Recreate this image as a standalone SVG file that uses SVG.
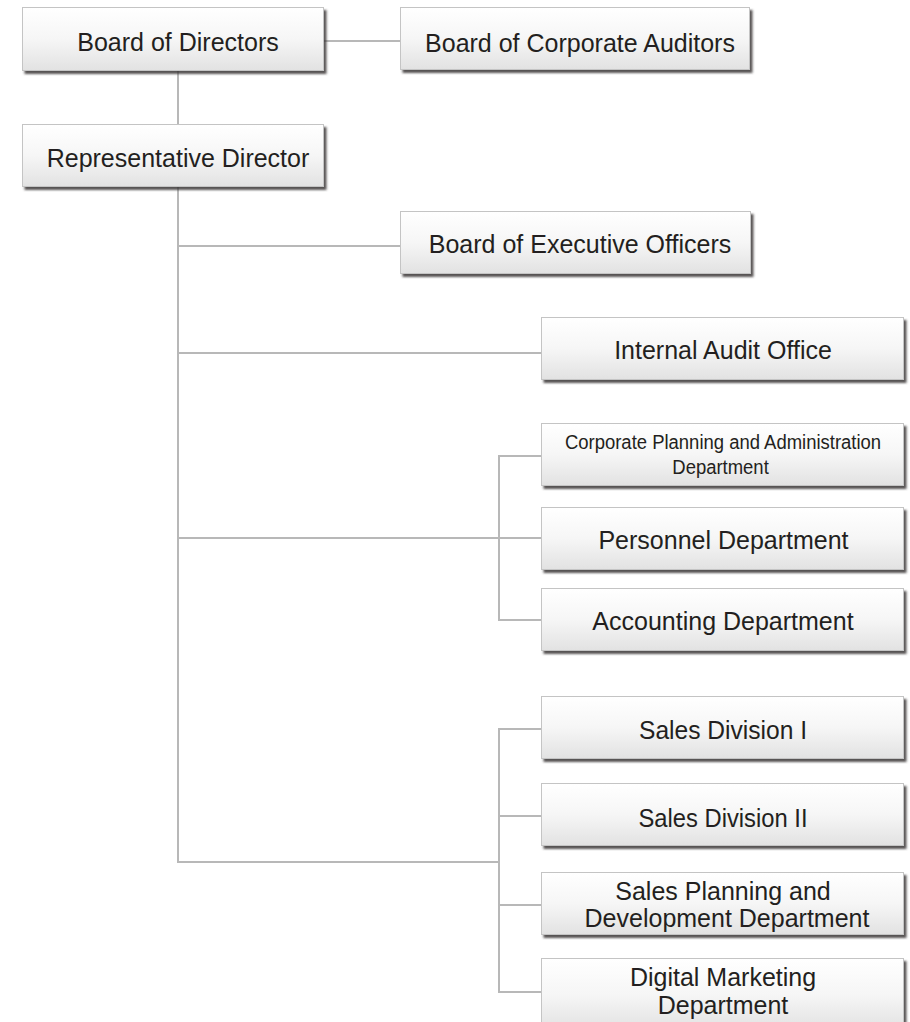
<svg xmlns="http://www.w3.org/2000/svg" width="910" height="1022" viewBox="0 0 910 1022">
<style>
.box{fill:url(#g);stroke:#c4c4c4;stroke-width:1;filter:url(#sh)}
.t{font-family:"Liberation Sans",Arial,Helvetica,sans-serif;font-size:25px;fill:#231f20;text-anchor:middle}
.tc{font-family:"Liberation Sans",Arial,Helvetica,sans-serif;font-size:21px;fill:#231f20;text-anchor:middle}
.ln{stroke:#b8b8b8;stroke-width:2;fill:none}
</style>
<defs>
<linearGradient id="g" x1="0" y1="0" x2="0" y2="1">
<stop offset="0" stop-color="#ffffff"/>
<stop offset="0.5" stop-color="#f6f6f6"/>
<stop offset="1" stop-color="#e2e2e2"/>
</linearGradient>
<filter id="sh" x="-5%" y="-10%" width="115%" height="130%">
<feDropShadow dx="2.5" dy="3" stdDeviation="0.9" flood-color="#3a3535" flood-opacity="0.85"/>
</filter>
</defs>
<rect width="910" height="1022" fill="#ffffff"/>
<g id="connectors">
<line class="ln" x1="324" y1="41" x2="401" y2="41"/>
<line class="ln" x1="178" y1="71" x2="178" y2="125"/>
<polyline class="ln" points="178,187 178,862 499,862"/>
<line class="ln" x1="178" y1="246" x2="401" y2="246"/>
<line class="ln" x1="178" y1="353" x2="542" y2="353"/>
<line class="ln" x1="178" y1="538" x2="542" y2="538"/>
<polyline class="ln" points="542,456 499,456 499,620 542,620"/>
<polyline class="ln" points="542,729 499,729 499,992 542,992"/>
<line class="ln" x1="499" y1="816" x2="542" y2="816"/>
<line class="ln" x1="499" y1="905" x2="542" y2="905"/>
</g>
<g id="board-of-directors">
<rect class="box" x="22.5" y="7.5" width="301" height="63"/>
<text class="t" x="178" y="51">Board of Directors</text>
</g>
<g id="board-of-corporate-auditors">
<rect class="box" x="400.5" y="7.5" width="349" height="62"/>
<text class="t" x="580" y="52">Board of Corporate Auditors</text>
</g>
<g id="representative-director">
<rect class="box" x="22.5" y="124.5" width="301" height="62"/>
<text class="t" x="178" y="167">Representative Director</text>
</g>
<g id="board-of-executive-officers">
<rect class="box" x="400.5" y="211.5" width="350" height="62"/>
<text class="t" x="580" y="253">Board of Executive Officers</text>
</g>
<g id="internal-audit-office">
<rect class="box" x="541.5" y="317.5" width="362" height="62"/>
<text class="t" x="723" y="359">Internal Audit Office</text>
</g>
<g id="corporate-planning">
<rect class="box" x="541.5" y="423.5" width="362" height="62"/>
<g transform="scale(0.88 1)">
<text class="tc" x="821.6" y="449">Corporate Planning and Administration</text>
<text class="tc" x="818.8" y="474">Department</text>
</g>
</g>
<g id="personnel-department">
<rect class="box" x="541.5" y="507.5" width="362" height="62"/>
<text class="t" x="723.5" y="549">Personnel Department</text>
</g>
<g id="accounting-department">
<rect class="box" x="541.5" y="588.5" width="362" height="62"/>
<text class="t" x="723" y="630">Accounting Department</text>
</g>
<g id="sales-division-1">
<rect class="box" x="541.5" y="696.5" width="362" height="62"/>
<text class="t" x="723" y="739" textLength="168" lengthAdjust="spacingAndGlyphs">Sales Division I</text>
</g>
<g id="sales-division-2">
<rect class="box" x="541.5" y="783.5" width="362" height="62"/>
<text class="t" x="723" y="827" textLength="169" lengthAdjust="spacingAndGlyphs">Sales Division II</text>
</g>
<g id="sales-planning">
<rect class="box" x="541.5" y="872.5" width="362" height="62"/>
<text class="t" x="723" y="900">Sales Planning and</text>
<text class="t" x="727" y="927">Development Department</text>
</g>
<g id="digital-marketing">
<rect class="box" x="541.5" y="958.5" width="362" height="72"/>
<text class="t" x="723" y="986">Digital Marketing</text>
<text class="t" x="723" y="1014">Department</text>
</g>
</svg>
